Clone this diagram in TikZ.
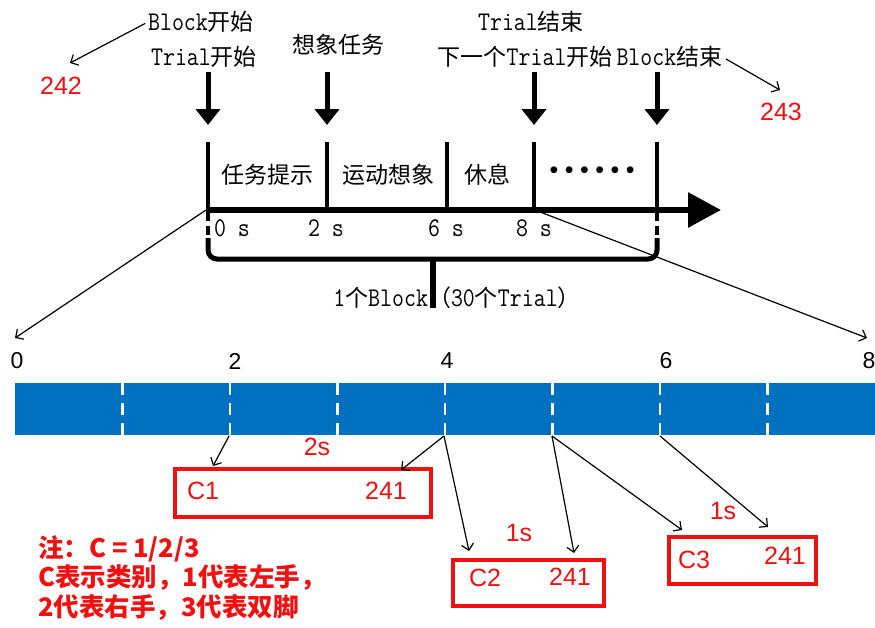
\documentclass[tikz,border=0pt]{standalone}
\usepackage{fontspec}
\setmainfont{Liberation Sans}
\newfontfamily\cjk{Noto Sans CJK SC}
\newfontfamily\mono{Latin Modern Mono}[FakeStretch=0.86]
\usetikzlibrary{arrows.meta}
\definecolor{barblue}{HTML}{0070C0}
\definecolor{redc}{HTML}{F01010}
\newcommand\cn[1]{{\cjk #1}}
\newcommand\mn[1]{{\mono\fontsize{27}{30}\selectfont #1}}
\tikzset{
 toplbl/.style={inner sep=0pt, font=\fontsize{23}{27}\selectfont},
 bigarrow/.style={line width=5pt, -{Triangle[width=24pt,length=16pt]}},
 tickline/.style={line width=4.5pt},
 dashtick/.style={line width=4.5pt, dash pattern=on 9pt off 5pt},
 thinarrow/.style={line width=1.2pt, -{Straight Barb[length=6pt,width=12pt]}},
 redbox/.style={draw=redc, line width=4pt, inner sep=0pt},
 redlbl/.style={text=redc, inner sep=0pt, font=\fontsize{25}{30}\selectfont},
 scalelbl/.style={inner sep=0pt, font=\fontsize{23}{27}\selectfont},
 divider/.style={white, line width=2.5pt, dash pattern=on 12pt off 8pt},
}
\begin{document}
\begin{tikzpicture}[x=1pt,y=-1pt]
\useasboundingbox (0,0) rectangle (875,627);

% ---------- top labels ----------
\node[toplbl] (blockstart) at (201,22) {\mn{Block}\cn{开始}};
\node[toplbl] (trialstart) at (204,57) {\mn{Trial}\cn{开始}};
\node[toplbl] (imagine) at (338,45) {\cn{想象任务}};
\node[toplbl] (trialend) at (531,22) {\mn{Trial}\cn{结束}};
\node[toplbl] (nexttrial) at (580,57) {\cn{下一个}\mn{Trial}\cn{开始}\hspace{4pt}\mn{Block}\cn{结束}};
\node[redlbl] (n242) at (61,86) {242};
\node[redlbl] (n243) at (781,112) {243};
\coordinate (t242) at (70,63);
\coordinate (t243) at (780,90);
\draw[thinarrow, shorten <=3pt] (blockstart.west) -- (t242);
\draw[thinarrow, shorten <=4pt] (nexttrial.east) -- (t243);

% ---------- big down arrows ----------
\foreach \x/\n in {208/a, 327/b, 534/c, 657/d}{
  \coordinate (\n top) at (\x,72);
  \coordinate (\n tip) at (\x,125);
  \draw[bigarrow] (\n top) -- (\n tip);
}

% ---------- timeline ----------
\coordinate (ax0) at (206,210);
\coordinate (axend) at (721,210);
\draw[line width=6pt, -{Triangle[width=34pt,length=33pt]}] (ax0) -- (axend);
\foreach \x in {208,327,447,534,657}{
  \draw[tickline] (\x,142) -- (\x,212);
}
\draw[dashtick] (208,212) -- (208,240);
\draw[dashtick] (657,212) -- (657,240);
\node[toplbl] (s1) at (267,175) {\cn{任务提示}};
\node[toplbl] (s2) at (388,175) {\cn{运动想象}};
\node[toplbl] (s3) at (487,175) {\cn{休息}};
\node[inner sep=0pt, font=\fontsize{25}{30}\selectfont] (s4) at (592,173) {•\hspace{6.5pt}•\hspace{6.5pt}•\hspace{6.5pt}•\hspace{6.5pt}•\hspace{6.5pt}•};
\node[toplbl] (t0) at (232,228) {\mn{0 s}};
\node[toplbl] (t2) at (326,228) {\mn{2 s}};
\node[toplbl] (t6) at (446,228) {\mn{6 s}};
\node[toplbl] (t8) at (534,228) {\mn{8 s}};

% brace
\draw[line width=5pt, rounded corners=9pt] (208,238) |- (433,259) -| (657,238);
\fill (423,257) .. controls (431,259) .. (431,270) -- (435,270) .. controls (435,259) .. (443,257) -- cycle;
\node[toplbl] (blocklbl) at (457,298) {\mn{1}\cn{个}\mn{Block}\cn{（}\mn{30}\cn{个}\mn{Trial}\cn{）}};
\draw[line width=5.5pt] (433,259) -- (433,308);

% zoom lines
\coordinate (z0) at (15,338);
\coordinate (z8) at (867,338);
\coordinate (ax8) at (535,210);
\draw[thinarrow] (ax0) -- (z0);
\draw[thinarrow] (ax8) -- (z8);

% ---------- bar ----------
\node[scalelbl] (l0) at (17,361) {0};
\node[scalelbl] (l2) at (235,361) {2};
\node[scalelbl] (l4) at (447,361) {4};
\node[scalelbl] (l6) at (666,361) {6};
\node[scalelbl] (l8) at (869,361) {8};
\fill[barblue] (15,383) rectangle (875,435);
\foreach \k in {1,...,7}{
  \draw[divider] (15+107.5*\k,383) -- (15+107.5*\k,435);
}
\coordinate (d2) at (229,436);
\coordinate (d4) at (444,436);
\coordinate (d5) at (552,436);
\coordinate (d6) at (660,436);

% ---------- red boxes ----------
\node[redbox, minimum width=256pt, minimum height=48pt] (b1) at (303,493) {};
\node[redlbl] (c1) at (203,491) {C1};
\node[redlbl] (c1n) at (386,491) {241};
\node[redbox, minimum width=151pt, minimum height=46pt] (b2) at (528.5,583) {};
\node[redlbl] (c2) at (485,578) {C2};
\node[redlbl] (c2n) at (570,577) {241};
\node[redbox, minimum width=147pt, minimum height=47pt] (b3) at (742.5,560.5) {};
\node[redlbl] (c3) at (694,560) {C3};
\node[redlbl] (c3n) at (785,556) {241};
\node[redlbl] (dur1) at (317,447) {2s};
\node[redlbl] (dur2) at (519,533) {1s};
\node[redlbl] (dur3) at (723,511) {1s};

\coordinate (e1) at (213,466);
\coordinate (e2) at (401,470);
\coordinate (e3) at (469,551);
\coordinate (e4) at (574,553);
\coordinate (e5) at (682,530);
\coordinate (e6) at (768,527);
\draw[thinarrow] (d2) -- (e1);
\draw[thinarrow] (d4) -- (e2);
\draw[thinarrow] (d4) -- (e3);
\draw[thinarrow] (d5) -- (e4);
\draw[thinarrow] (d5) -- (e5);
\draw[thinarrow] (d6) -- (e6);

% ---------- note ----------
\node[anchor=west, inner sep=0pt, align=left, text=redc, font=\cjk\bfseries\fontsize{25.5}{29.5}\selectfont] (note) at (38,578)
 {注：C = 1/2/3\\C表示类别，1代表左手，\\2代表右手，3代表双脚};
\end{tikzpicture}
\end{document}
